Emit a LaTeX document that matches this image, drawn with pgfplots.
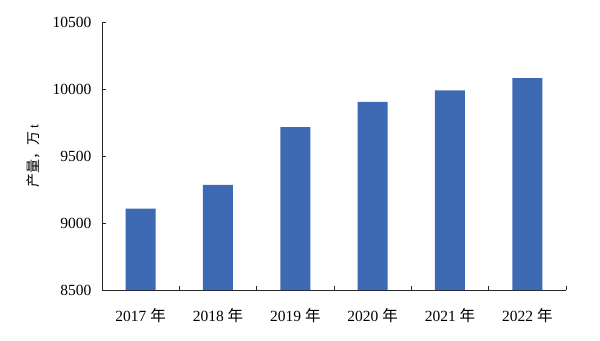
\documentclass[border=0pt]{standalone}
\usepackage{fontspec}
\setmainfont{Liberation Serif}
\newfontfamily\cjk{Noto Sans CJK SC}
\usepackage{pgfplots}
\pgfplotsset{compat=1.18}
\definecolor{barblue}{RGB}{61,106,178}
\begin{document}
\begin{tikzpicture}
\begin{axis}[
  scale only axis,
  width=464pt, height=268pt,
  xmin=-0.5, xmax=5.5,
  ymin=8500, ymax=10500,
  ytick={8500,9000,9500,10000,10500},
  scaled y ticks=false,
  yticklabel={\pgfmathprintnumber[fixed,precision=0,set thousands separator={}]{\tick}},
  xtick={0,1,2,3,4,5},
  xticklabels={2017 {\cjk 年},2018 {\cjk 年},2019 {\cjk 年},2020 {\cjk 年},2021 {\cjk 年},2022 {\cjk 年}},
  major x tick style={draw=none},
  minor xtick={-0.5,0.5,1.5,2.5,3.5,4.5,5.5},
  minor tick length=4pt,
  major tick length=4pt,
  axis x line*=bottom,
  axis y line*=left,
  axis line style={black!85, line width=0.9pt},
  tick style={black!85, line width=0.8pt},
  ticklabel style={font=\fontsize{15.5}{17}\selectfont},
  /pgf/number format/assume math mode=true,
  xticklabel style={yshift=-15pt},
  yticklabel style={xshift=-7pt},
  ylabel={{\cjk 产量，万} t},
  every axis y label/.style={at={(rel axis cs:-0.148,0.5)}, rotate=90, anchor=center, font=\fontsize{14}{16}\selectfont},
  clip=false,
]
\addplot[ybar, bar width=30pt, fill=barblue, draw=none] coordinates {
  (0,9107) (1,9284) (2,9716) (3,9903) (4,9990) (5,10082)
};
\path[draw=none] (rel axis cs:-0.2198,-0.1866) rectangle (rel axis cs:1.0733,1.0821);
\end{axis}
\end{tikzpicture}
\end{document}
